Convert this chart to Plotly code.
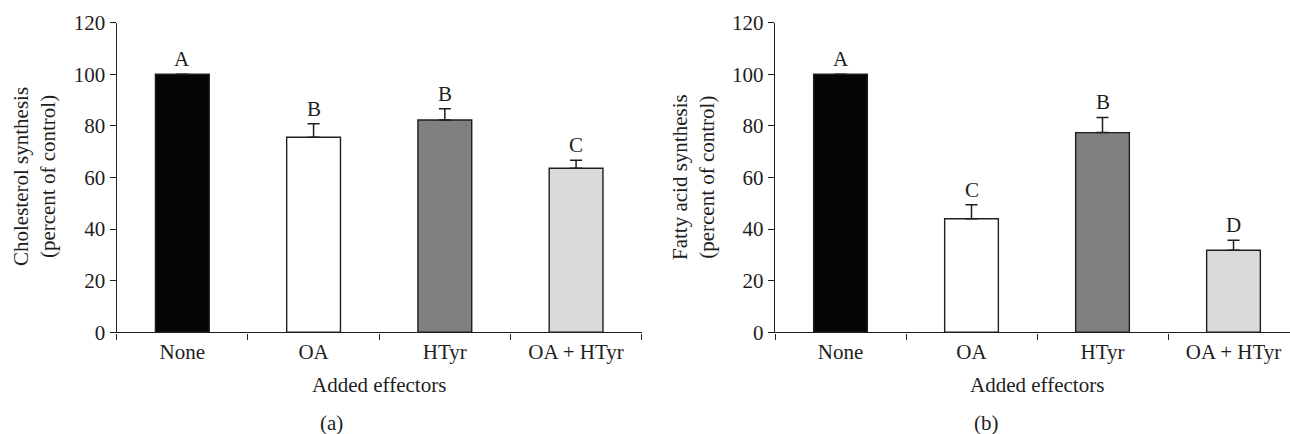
import plotly.graph_objects as go

categories = ["None", "OA", "HTyr", "OA + HTyr"]
chol_values = [100, 75.6, 82.3, 63.6]
chol_errors = [0, 5.2, 4.3, 3.1]
chol_letters = ["A", "B", "B", "C"]
fa_values = [100, 44.0, 77.4, 31.8]
fa_errors = [0, 5.4, 5.9, 3.9]
fa_letters = ["A", "C", "B", "D"]
bar_colors = ["#050505", "#ffffff", "#808080", "#d9d9d9"]
y_ticks = [0, 20, 40, 60, 80, 100, 120]

W, H = 1290, 434
FONT = "Liberation Serif"
INK = "#1e1e1e"
FS = 21

def px_x(p):
    return p / W

def px_y(p):
    return 1 - p / H

fig = go.Figure()

for vals, errs, xa, ya in [(chol_values, chol_errors, "x", "y"),
                           (fa_values, fa_errors, "x2", "y2")]:
    fig.add_trace(go.Bar(
        x=categories, y=vals, xaxis=xa, yaxis=ya,
        marker=dict(color=bar_colors, line=dict(color=INK, width=1.4)),
        width=0.41,
        error_y=dict(type="data", array=errs, arrayminus=[0] * len(errs),
                     symmetric=False, color=INK, thickness=1.5, width=6),
        showlegend=False, hoverinfo="skip",
    ))

ydom = [px_y(332.3), px_y(22.7)]
axis_common = dict(showline=True, linecolor=INK, linewidth=1.4, ticks="outside",
                   tickcolor=INK, ticklen=6, tickwidth=1.4, showgrid=False,
                   zeroline=False, automargin=False,
                   tickfont=dict(family=FONT, size=FS, color=INK))

fig.update_layout(
    width=W, height=H, margin=dict(l=0, r=0, t=0, b=0, pad=0, autoexpand=False),
    paper_bgcolor="white", plot_bgcolor="white",
    font=dict(family=FONT, size=FS, color=INK),
    xaxis=dict(domain=[px_x(116.7), px_x(641.7)], type="category",
               range=[-0.5, 3.5], tickson="boundaries", **axis_common),
    yaxis=dict(domain=ydom, range=[0, 120], tickvals=y_ticks, **axis_common),
    xaxis2=dict(domain=[px_x(775), 1.0], type="category", anchor="y2",
                range=[-0.5, -0.5 + (1290 - 775) / 131.0], tickson="boundaries",
                **axis_common),
    yaxis2=dict(domain=ydom, range=[0, 120], tickvals=y_ticks, anchor="x2",
                **axis_common),
)

def text_ann(**kw):
    base = dict(showarrow=False, xanchor="center", yanchor="middle",
                font=dict(family=FONT, size=FS, color=INK))
    base.update(kw)
    return base

annotations = []
for vals, errs, letters, xr, yr in [(chol_values, chol_errors, chol_letters, "x", "y"),
                                    (fa_values, fa_errors, fa_letters, "x2", "y2")]:
    for i, (v, e, t) in enumerate(zip(vals, errs, letters)):
        annotations.append(text_ann(x=i, y=v + e, xref=xr, yref=yr, text=t,
                                    yanchor="bottom", yshift=1))
    annotations.append(text_ann(x=1.5, y=px_y(385), xref=xr, yref="paper",
                                text="Added effectors"))

annotations.append(text_ann(x=px_x(35), y=px_y(177), xref="paper", yref="paper",
                            text="Cholesterol synthesis<br>(percent of control)",
                            textangle=-90))
annotations.append(text_ann(x=px_x(694), y=px_y(177), xref="paper", yref="paper",
                            text="Fatty acid synthesis<br>(percent of control)",
                            textangle=-90))
annotations.append(text_ann(x=px_x(331), y=px_y(423), xref="paper", yref="paper",
                            text="(a)"))
annotations.append(text_ann(x=px_x(986), y=px_y(423), xref="paper", yref="paper",
                            text="(b)"))
fig.update_layout(annotations=annotations)

fig.write_html("out.html")
